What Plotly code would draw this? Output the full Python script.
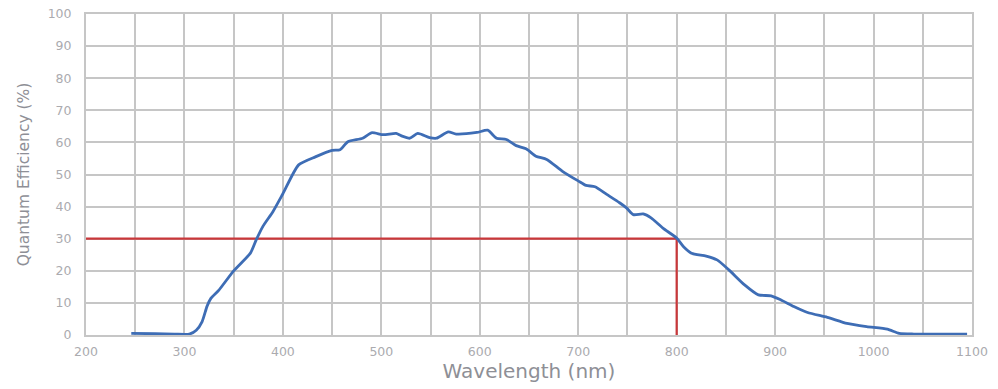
import plotly.graph_objects as go

wavelength = [246, 270, 290, 305, 312, 318, 323, 327, 335, 350, 367, 373, 380, 390, 400, 416,
              433, 450, 458, 466, 481, 490, 502, 515, 520, 529, 537, 549, 556, 568, 576, 597,
              608, 617, 627, 637, 647, 657, 668, 684, 700, 708, 717, 729, 742, 749, 756, 766,
              774, 786, 800, 807, 815, 830, 841, 853, 869, 883, 896, 906, 919, 933, 953, 973,
              993, 1014, 1026, 1041, 1070, 1095]
qe = [0.5, 0.4, 0.3, 0.3, 1.5, 4.2, 9.0, 11.5, 14.0, 20.0, 25.5, 29.7, 34.0, 38.5, 44.0, 53.0,
      55.5, 57.5, 57.7, 60.2, 61.3, 63.0, 62.4, 62.8, 62.1, 61.3, 62.8, 61.5, 61.3, 63.3, 62.6, 63.1,
      63.8, 61.3, 60.9, 59.0, 58.0, 55.7, 54.7, 51.0, 48.0, 46.6, 46.2, 43.8, 41.2, 39.6, 37.5, 37.7,
      36.5, 33.3, 30.2, 27.5, 25.5, 24.6, 23.4, 20.3, 15.6, 12.5, 12.2, 10.9, 8.9, 7.0, 5.5, 3.6,
      2.6, 1.8, 0.5, 0.3, 0.3, 0.3]

marker_x = [200, 800, 800]
marker_y = [30, 30, 0]

x_ticks = [200, 300, 400, 500, 600, 700, 800, 900, 1000, 1100]
y_ticks = [0, 10, 20, 30, 40, 50, 60, 70, 80, 90, 100]

fig = go.Figure()
fig.add_trace(go.Scatter(x=marker_x, y=marker_y, mode="lines",
                         line=dict(color="#C9373A", width=2.2), hoverinfo="skip"))
fig.add_trace(go.Scatter(x=wavelength, y=qe, mode="lines",
                         line=dict(color="#3E6DB5", width=2.8, shape="spline", smoothing=0.6)))

grid = "#C6C6C6"
tickfont = dict(family="DejaVu Sans, sans-serif", size=12.5, color="#ABABAF")
fig.update_layout(
    width=998, height=389,
    margin=dict(l=86, r=26, t=14, b=54),
    paper_bgcolor="white", plot_bgcolor="white",
    showlegend=False,
    font=dict(family="DejaVu Sans, sans-serif", color="#A0A0A0", size=12),
    xaxis=dict(range=[200, 1100], tickvals=x_ticks, ticks="", automargin=False,
               ticklabelstandoff=4, ticklabeloverflow="allow",
               showgrid=True, gridcolor=grid, gridwidth=2,
               minor=dict(dtick=50, tick0=200, showgrid=True, gridcolor=grid, gridwidth=2),
               showline=True, linecolor=grid, linewidth=2, mirror=True,
               zeroline=False,
               title=dict(text="Wavelength (nm)",
                          font=dict(family="DejaVu Sans, sans-serif", size=20, color="#8E8F96"),
                          standoff=2),
               tickfont=tickfont),
    yaxis=dict(range=[0, 100], tickvals=y_ticks, ticks="", automargin=False,
               ticklabelstandoff=10, ticklabeloverflow="allow",
               showgrid=True, gridcolor=grid, gridwidth=2,
               showline=True, linecolor=grid, linewidth=2, mirror=True,
               zeroline=False,
               title=dict(text="Quantum Efficiency (%)",
                          font=dict(family="DejaVu Sans, sans-serif", size=15.5, color="#8E8F96"),
                          standoff=14),
               tickfont=tickfont),
)

fig.write_html("out.html", config={"displayModeBar": False},
               post_script="document.body.style.margin='0px';")
